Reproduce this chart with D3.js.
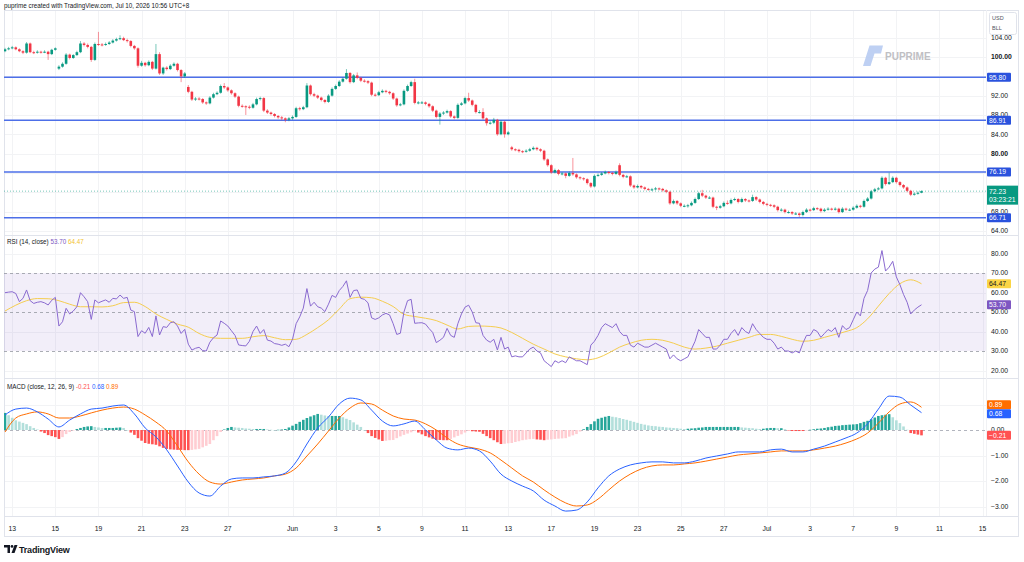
<!DOCTYPE html>
<html>
<head>
<meta charset="utf-8">
<script src="https://cdn.jsdelivr.net/npm/d3@7"></script>
<style>
    html, body { margin: 0; padding: 0; background: #fff; }
    svg { display: block; font-family: "Liberation Sans", Arial, sans-serif; }
</style>
</head>
<body>
<svg id="chart" width="1024" height="562"></svg>
<script>
// 4h candles
var opens = [
    101.2, 101.6, 101.8, 102.0, 101.6, 101.2, 100.9, 102.8, 101.0, 100.9,
    101.1, 101.0, 101.1, 100.6, 101.5, 97.6, 98.0, 98.6, 100.5, 99.8,
    100.4, 101.0, 102.8, 102.5, 102.1, 99.4, 102.7, 102.6, 102.5, 102.7,
    103.0, 103.4, 103.7, 103.9, 103.5, 103.3, 102.3, 101.8, 98.2, 98.8,
    98.3, 99.0, 97.6, 100.6, 96.6, 97.8, 97.5, 98.2, 98.6, 97.3,
    96.0, 93.8, 92.8, 91.2, 91.4, 91.3, 90.6, 90.4, 91.6, 92.3,
    92.6, 94.0, 93.7, 93.1, 92.5, 91.8, 89.9, 89.8, 89.7, 89.5,
    90.2, 91.3, 91.5, 88.9, 88.5, 88.2, 87.8, 87.5, 87.3, 87.0,
    87.3, 87.6, 89.4, 89.2, 89.6, 94.1, 92.3, 92.0, 91.6, 91.1,
    90.7, 92.0, 93.4, 94.0, 94.9, 95.5, 96.7, 94.8, 96.2, 95.7,
    95.1, 95.0, 94.7, 92.2, 92.1, 92.7, 93.0, 92.8, 92.5, 91.4,
    90.0, 90.2, 93.0, 94.0, 94.8, 90.5, 90.6, 90.6, 90.3, 89.8,
    88.9, 87.6, 88.3, 88.5, 88.8, 87.7, 87.4, 90.1, 90.4, 91.5,
    91.0, 90.1, 88.6, 88.6, 87.3, 86.3, 86.4, 87.0, 84.0, 86.6,
    84.0, 81.3, 80.9, 80.8, 80.5, 80.4, 80.6, 80.9, 81.2, 80.9,
    80.6, 78.8, 77.6, 76.1, 76.6, 75.8, 75.9, 75.4, 76.0, 75.7,
    75.1, 74.9, 74.7, 73.9, 73.2, 75.4, 75.6, 75.9, 76.2, 76.0,
    75.8, 77.6, 75.6, 75.2, 75.3, 73.4, 73.0, 73.3, 73.0, 72.7,
    72.6, 72.6, 72.8, 72.7, 72.4, 72.1, 69.7, 70.2, 69.7, 69.2,
    69.2, 69.3, 69.8, 70.6, 71.8, 71.3, 70.9, 70.9, 69.0, 68.8,
    69.1, 69.8, 69.7, 70.4, 70.6, 70.0, 70.6, 70.3, 70.2, 71.0,
    70.5, 70.0, 69.6, 69.4, 69.3, 69.0, 68.3, 68.4, 67.9, 67.9,
    67.6, 67.6, 67.3, 67.9, 68.4, 68.3, 68.7, 68.6, 68.1, 68.4,
    68.6, 68.5, 68.6, 67.9, 68.6, 68.4, 68.4, 68.8, 69.2, 69.0,
    70.2, 70.7, 72.2, 72.6, 72.8, 75.0, 73.7, 74.1, 75.0, 74.1,
    73.5, 73.0, 72.3, 71.5, 71.7, 71.9
];
var highs = [
    101.9, 102.1, 102.3, 102.2, 101.8, 101.4, 103.1, 103.0, 101.3, 101.4,
    101.3, 101.4, 101.3, 101.7, 102.0, 98.3, 98.9, 100.8, 100.7, 100.6,
    101.3, 103.3, 103.1, 102.8, 102.3, 103.0, 105.2, 102.9, 103.0, 103.3,
    103.7, 104.0, 104.5, 104.2, 103.8, 103.5, 102.5, 102.0, 99.2, 99.0,
    99.3, 99.2, 102.7, 101.0, 98.0, 98.1, 98.5, 98.9, 98.8, 97.5,
    96.9, 94.2, 93.0, 91.7, 91.7, 91.5, 90.8, 91.9, 92.6, 92.9,
    94.3, 94.6, 93.9, 93.3, 92.7, 92.0, 90.2, 90.0, 90.0, 90.5,
    91.6, 91.8, 91.7, 89.2, 88.7, 88.4, 88.0, 87.8, 87.5, 87.6,
    87.9, 89.7, 89.7, 89.9, 94.6, 94.3, 92.6, 92.2, 91.8, 91.3,
    92.3, 93.7, 94.3, 95.2, 95.8, 97.5, 96.9, 96.5, 96.8, 95.9,
    95.4, 95.2, 94.9, 92.5, 93.0, 93.3, 93.2, 93.0, 92.7, 91.6,
    90.5, 93.3, 94.3, 95.1, 95.5, 90.9, 90.9, 90.8, 90.5, 90.0,
    89.1, 88.6, 88.8, 89.1, 89.0, 87.9, 90.4, 90.7, 91.8, 92.6,
    91.2, 90.3, 89.0, 89.4, 87.5, 86.7, 87.4, 87.2, 86.9, 86.8,
    84.7, 81.6, 81.1, 81.0, 80.7, 80.9, 81.2, 81.5, 81.4, 81.1,
    80.8, 79.0, 77.8, 76.9, 76.8, 76.2, 76.1, 76.3, 79.1, 75.9,
    75.3, 75.1, 74.9, 74.1, 75.7, 75.9, 76.2, 76.5, 76.4, 76.2,
    76.5, 78.0, 75.8, 75.6, 75.5, 73.6, 73.6, 73.5, 73.2, 72.9,
    72.9, 73.1, 73.0, 72.9, 72.6, 72.3, 70.5, 70.4, 69.9, 69.5,
    69.6, 70.1, 70.9, 72.1, 72.5, 71.5, 71.2, 71.1, 69.2, 69.4,
    70.1, 70.3, 70.7, 70.9, 70.8, 70.9, 70.8, 70.5, 71.5, 71.2,
    70.7, 70.2, 69.8, 69.6, 69.5, 69.2, 68.7, 68.6, 68.2, 68.1,
    67.9, 67.8, 68.2, 68.7, 68.6, 69.0, 68.9, 68.8, 68.7, 68.9,
    68.8, 68.9, 68.8, 68.9, 68.8, 68.7, 69.1, 69.5, 69.4, 70.5,
    71.0, 72.5, 72.9, 73.1, 75.3, 75.2, 76.06, 75.3, 75.2, 74.3,
    73.7, 73.2, 72.5, 72.0, 72.2, 72.4
];
var lows = [
    101.0, 101.4, 101.6, 101.4, 101.0, 100.6, 100.7, 100.8, 100.6, 100.7,
    100.7, 100.8, 99.4, 100.4, 101.3, 97.3, 97.8, 98.4, 99.5, 99.6,
    100.2, 100.8, 102.2, 101.8, 99.0, 99.2, 102.3, 102.2, 102.3, 102.5,
    102.8, 103.2, 103.5, 103.3, 103.0, 102.0, 101.5, 97.8, 98.0, 98.0,
    98.1, 97.3, 97.4, 96.3, 96.3, 97.2, 97.3, 98.0, 97.0, 94.8,
    95.7, 92.5, 90.9, 90.9, 91.0, 90.3, 90.1, 90.2, 91.4, 92.1,
    92.4, 93.4, 92.8, 92.2, 91.5, 89.6, 89.5, 88.0, 89.2, 89.3,
    90.0, 91.0, 88.6, 88.2, 87.9, 87.5, 87.2, 86.9, 86.5, 86.7,
    87.0, 87.4, 88.9, 89.0, 89.4, 92.0, 91.7, 91.3, 90.8, 90.4,
    90.5, 91.8, 93.2, 93.8, 94.7, 95.3, 94.5, 94.6, 95.4, 94.8,
    94.7, 94.4, 91.9, 91.8, 91.9, 92.5, 92.5, 92.2, 91.1, 89.7,
    89.8, 90.0, 92.8, 93.8, 90.2, 90.2, 90.3, 90.0, 89.5, 88.6,
    87.3, 86.0, 88.0, 88.3, 87.4, 87.1, 87.2, 89.9, 90.2, 90.7,
    89.8, 88.3, 88.3, 87.0, 85.8, 86.0, 86.1, 83.7, 83.8, 83.3,
    83.8, 80.6, 80.5, 80.2, 80.1, 80.2, 80.4, 80.7, 80.6, 80.3,
    78.5, 77.3, 75.8, 75.9, 75.5, 75.5, 74.9, 75.2, 75.4, 74.8,
    74.6, 74.4, 73.6, 72.9, 73.0, 75.2, 75.4, 75.7, 75.7, 75.5,
    75.6, 75.3, 74.9, 75.0, 73.1, 72.7, 72.8, 72.7, 72.4, 72.3,
    72.3, 72.4, 72.4, 72.1, 71.8, 69.4, 69.5, 69.4, 68.9, 68.9,
    68.8, 69.1, 69.6, 70.4, 71.0, 70.6, 70.6, 68.7, 68.3, 68.6,
    68.9, 69.4, 69.5, 70.2, 69.7, 69.8, 70.0, 69.9, 70.0, 70.2,
    69.7, 69.3, 69.1, 69.0, 68.7, 68.0, 68.0, 67.6, 67.6, 67.3,
    67.3, 66.9, 67.0, 67.7, 68.0, 68.1, 68.3, 67.8, 67.9, 68.2,
    68.2, 68.2, 67.6, 67.7, 68.1, 68.1, 68.2, 68.6, 68.7, 68.8,
    70.0, 70.5, 72.0, 72.4, 72.6, 73.4, 73.5, 73.9, 73.8, 73.2,
    72.7, 72.0, 71.2, 71.3, 71.5, 71.8
];
var closes = [
    101.6, 101.8, 102.0, 101.6, 101.2, 100.9, 102.8, 101.0, 100.9, 101.1,
    101.0, 101.1, 100.6, 101.5, 101.8, 98.0, 98.6, 100.5, 99.8, 100.4,
    101.0, 102.8, 102.5, 102.1, 99.4, 102.7, 102.6, 102.5, 102.7, 103.0,
    103.4, 103.7, 103.9, 103.5, 103.3, 102.3, 101.8, 98.2, 98.8, 98.3,
    99.0, 97.6, 100.6, 96.6, 97.8, 97.5, 98.2, 98.6, 97.3, 96.0,
    96.6, 92.8, 91.2, 91.4, 91.3, 90.6, 90.4, 91.6, 92.3, 92.6,
    94.0, 93.7, 93.1, 92.5, 91.8, 89.9, 89.8, 89.7, 89.5, 90.2,
    91.3, 91.5, 88.9, 88.5, 88.2, 87.8, 87.5, 87.3, 87.0, 87.3,
    87.6, 89.4, 89.2, 89.6, 94.1, 92.3, 92.0, 91.6, 91.1, 90.7,
    92.0, 93.4, 94.0, 94.9, 95.5, 96.7, 94.8, 96.2, 95.7, 95.1,
    95.0, 94.7, 92.2, 92.1, 92.7, 93.0, 92.8, 92.5, 91.4, 90.0,
    90.2, 93.0, 94.0, 94.8, 90.5, 90.6, 90.6, 90.3, 89.8, 88.9,
    87.6, 88.3, 88.5, 88.8, 87.7, 87.4, 90.1, 90.4, 91.5, 91.0,
    90.1, 88.6, 88.6, 87.3, 86.3, 86.4, 87.0, 84.0, 86.6, 84.0,
    84.4, 80.9, 80.8, 80.5, 80.4, 80.6, 80.9, 81.2, 80.9, 80.6,
    78.8, 77.6, 76.1, 76.6, 75.8, 75.9, 75.4, 76.0, 75.7, 75.1,
    74.9, 74.7, 73.9, 73.2, 75.4, 75.6, 75.9, 76.2, 76.0, 75.8,
    76.2, 75.6, 75.2, 75.3, 73.4, 73.0, 73.3, 73.0, 72.7, 72.6,
    72.6, 72.8, 72.7, 72.4, 72.1, 69.7, 70.2, 69.7, 69.2, 69.2,
    69.3, 69.8, 70.6, 71.8, 71.3, 70.9, 70.9, 69.0, 68.8, 69.1,
    69.8, 69.7, 70.4, 70.6, 70.0, 70.6, 70.3, 70.2, 71.0, 70.5,
    70.0, 69.6, 69.4, 69.3, 69.0, 68.3, 68.4, 67.9, 67.9, 67.6,
    67.6, 67.3, 67.9, 68.4, 68.3, 68.7, 68.6, 68.1, 68.4, 68.6,
    68.5, 68.6, 67.9, 68.6, 68.4, 68.4, 68.8, 69.2, 69.0, 70.2,
    70.7, 72.2, 72.6, 72.8, 75.0, 73.7, 74.1, 75.0, 74.1, 73.5,
    73.0, 72.3, 71.5, 71.7, 71.9, 72.23
];

// RSI(14), one value per candle
var rsiValues = [
    59.9, 60.2, 60.4, 59.5, 55.3, 57.0, 61.3, 55.8, 54.4, 55.0,
    55.3, 54.7, 53.6, 56.0, 57.5, 42.8, 45.0, 51.9, 49.0, 50.5,
    52.7, 59.9, 57.8, 55.3, 46.2, 56.2, 54.7, 55.5, 56.2, 55.0,
    57.0, 56.7, 58.7, 57.0, 57.5, 51.0, 50.2, 37.4, 40.4, 39.1,
    42.1, 37.4, 48.0, 38.2, 42.5, 42.1, 44.5, 45.0, 42.8, 39.0,
    41.1, 33.5, 30.5, 31.4, 31.9, 30.2, 30.0, 34.5, 36.8, 38.2,
    45.4, 44.2, 42.8, 40.4, 38.0, 33.1, 32.8, 32.6, 35.0, 40.0,
    42.8, 39.0, 41.0, 35.6, 35.1, 33.8, 33.5, 32.9, 33.5, 32.2,
    36.0, 44.0, 47.5, 52.0, 62.0, 53.0, 55.0, 52.7, 52.0, 50.2,
    54.0, 58.5, 57.5, 61.0, 63.1, 66.0, 57.5, 61.0, 61.3, 57.0,
    56.5, 54.7, 47.0, 46.2, 47.0, 48.5, 49.3, 48.5, 44.0, 38.5,
    39.1, 50.0, 55.8, 56.5, 44.2, 44.4, 44.5, 43.8, 41.5, 39.5,
    34.3, 35.5, 37.0, 41.6, 38.0, 37.0, 44.0, 49.0, 52.5, 53.5,
    50.0, 44.5, 44.2, 38.0, 35.6, 34.5, 36.0, 30.5, 37.0, 31.0,
    32.0, 27.0, 27.5, 27.0, 27.0, 29.0, 31.0, 32.0, 30.0, 29.0,
    25.0, 23.5, 22.0, 25.0, 24.0, 25.0, 24.0, 27.0, 26.0, 25.0,
    25.0, 24.0, 23.0, 33.0, 35.0, 38.0, 42.0, 44.0, 43.0, 42.0,
    44.0, 40.0, 38.0, 38.0, 33.0, 32.0, 34.0, 33.0, 32.0, 32.0,
    33.0, 34.0, 33.0, 32.0, 31.0, 26.0, 28.0, 26.0, 25.0, 26.0,
    27.0, 31.0, 35.0, 41.0, 39.0, 37.0, 37.0, 31.0, 31.0, 33.0,
    36.0, 36.0, 39.0, 41.0, 38.0, 42.0, 40.0, 39.0, 44.0, 41.0,
    39.0, 37.0, 36.0, 36.0, 34.0, 31.0, 32.0, 30.0, 30.0, 29.0,
    30.0, 29.0, 34.0, 38.0, 38.0, 41.0, 40.0, 37.0, 39.0, 41.0,
    40.0, 42.0, 37.0, 43.0, 41.0, 42.0, 46.0, 50.0, 48.0, 57.0,
    61.0, 70.0, 72.0, 73.0, 81.5, 71.0, 73.0, 76.0, 68.0, 64.0,
    59.0, 55.0, 49.0, 51.0, 52.5, 53.70
];

// smooth lines, one point every 3 candles
var lineStep = 3;
var rsiMaValues = [
    50.5, 53.5, 55.8, 56.9, 56.8, 55.8, 54.0, 52.7, 52.7, 52.6,
    53.2, 54.8, 55.0, 52.8, 49.0, 46.2, 43.8, 42.2, 39.0, 37.0,
    36.5, 36.5, 36.5, 37.3, 37.9, 36.8, 35.8, 36.0, 38.5, 42.0,
    46.0, 51.5, 56.8, 57.6, 57.3, 55.5, 52.8, 48.8, 47.7, 46.8,
    45.6, 43.3, 41.3, 42.6, 42.8, 42.6, 41.8, 39.5, 36.5, 33.5,
    31.0, 28.5, 27.0, 26.0, 25.5, 26.5, 29.0, 32.0, 34.0, 35.5,
    36.0, 35.5, 34.0, 32.0, 31.0, 31.5, 32.5, 34.0, 35.5, 37.0,
    38.5, 38.5, 37.5, 36.0, 35.0, 35.5, 37.0, 38.5, 40.0, 42.0,
    46.5, 53.0, 59.5, 64.5, 66.5, 64.47
];
var macdValues = [
    0.59, 0.82, 0.86, 0.71, 0.43, 0.12, 0.39, 0.63, 0.82, 0.86,
    0.94, 0.98, 0.63, 0.08, -0.27, -0.78, -1.41, -2.04, -2.47, -2.59,
    -2.2, -1.92, -1.88, -1.88, -1.84, -1.8, -1.69, -1.25, -0.55, 0.08,
    0.51, 1.02, 1.25, 1.18, 0.78, 0.35, 0.16, 0.24, 0.35, 0.0,
    -0.39, -0.71, -0.78, -0.71, -0.82, -1.22, -1.73, -2.0, -2.2, -2.39,
    -2.75, -2.98, -3.18, -3.14, -2.82, -2.27, -1.8, -1.53, -1.37, -1.29,
    -1.25, -1.25, -1.29, -1.29, -1.22, -1.1, -1.02, -0.94, -0.86, -0.86,
    -0.86, -0.78, -0.75, -0.86, -0.86, -0.75, -0.63, -0.47, -0.31, -0.12,
    0.24, 0.82, 1.33, 1.29, 0.98, 0.68
];
var signalValues = [
    -0.08, 0.47, 0.63, 0.71, 0.63, 0.47, 0.47, 0.55, 0.67, 0.78,
    0.86, 0.9, 0.82, 0.59, 0.31, -0.04, -0.63, -1.25, -1.73, -2.04,
    -2.12, -2.04, -1.96, -1.92, -1.88, -1.8, -1.73, -1.49, -1.02, -0.55,
    -0.04, 0.47, 0.86, 1.06, 1.02, 0.78, 0.55, 0.43, 0.39, 0.24,
    0.0, -0.31, -0.55, -0.67, -0.75, -0.9, -1.18, -1.49, -1.8, -2.04,
    -2.35, -2.63, -2.86, -2.98, -2.94, -2.71, -2.35, -2.0, -1.73, -1.53,
    -1.41, -1.37, -1.37, -1.33, -1.29, -1.22, -1.14, -1.06, -0.98, -0.94,
    -0.9, -0.86, -0.82, -0.82, -0.82, -0.78, -0.71, -0.63, -0.51, -0.35,
    -0.12, 0.27, 0.71, 1.02, 1.1, 0.89
];
// MACD histogram, one bar per candle
var histValues = [
    0.67, 0.58, 0.48, 0.38, 0.33, 0.28, 0.23, 0.15, 0.08, 0.02,
    -0.06, -0.12, -0.2, -0.24, -0.28, -0.35, -0.28, -0.16, -0.08, -0.02,
    0.04, 0.08, 0.12, 0.14, 0.15, 0.12, 0.1, 0.08, 0.08, 0.08,
    0.08, 0.09, 0.1, 0.08, 0.0, -0.1, -0.19, -0.32, -0.42, -0.51,
    -0.54, -0.56, -0.58, -0.64, -0.7, -0.74, -0.76, -0.77, -0.78, -0.78,
    -0.79, -0.79, -0.78, -0.76, -0.74, -0.68, -0.62, -0.55, -0.4, -0.24,
    -0.08, 0.02, 0.08, 0.12, 0.1, 0.09, 0.08, 0.06, 0.05, 0.04,
    0.04, 0.04, 0.04, 0.02, 0.01, 0.0, 0.01, 0.02, 0.04, 0.1,
    0.17, 0.24, 0.32, 0.4, 0.47, 0.53, 0.58, 0.63, 0.6, 0.57,
    0.55, 0.55, 0.55, 0.55, 0.5, 0.44, 0.39, 0.3, 0.21, 0.12,
    0.0, -0.12, -0.24, -0.31, -0.37, -0.43, -0.42, -0.4, -0.39, -0.32,
    -0.25, -0.19, -0.14, -0.09, -0.04, -0.1, -0.17, -0.24, -0.29, -0.34,
    -0.39, -0.39, -0.4, -0.4, -0.35, -0.29, -0.23, -0.17, -0.1, -0.04,
    -0.05, -0.06, -0.07, -0.15, -0.24, -0.32, -0.4, -0.48, -0.55, -0.54,
    -0.52, -0.51, -0.47, -0.44, -0.4, -0.38, -0.36, -0.35, -0.37, -0.38,
    -0.4, -0.38, -0.37, -0.35, -0.34, -0.33, -0.32, -0.26, -0.21, -0.16,
    -0.06, 0.03, 0.12, 0.23, 0.34, 0.44, 0.48, 0.52, 0.55, 0.52,
    0.5, 0.47, 0.43, 0.4, 0.36, 0.32, 0.28, 0.24, 0.21, 0.18,
    0.16, 0.15, 0.13, 0.12, 0.1, 0.09, 0.08, 0.07, 0.05, 0.04,
    0.05, 0.06, 0.07, 0.09, 0.1, 0.12, 0.12, 0.12, 0.12, 0.12,
    0.12, 0.12, 0.12, 0.12, 0.12, 0.1, 0.09, 0.08, 0.07, 0.05,
    0.04, 0.05, 0.07, 0.08, 0.08, 0.07, 0.07, 0.03, -0.01, -0.04,
    -0.04, -0.04, -0.04, -0.02, 0.01, 0.03, 0.05, 0.06, 0.08, 0.11,
    0.13, 0.16, 0.17, 0.19, 0.2, 0.21, 0.22, 0.23, 0.27, 0.32,
    0.36, 0.42, 0.49, 0.55, 0.58, 0.6, 0.62, 0.5, 0.38, 0.27,
    0.14, 0.01, -0.12, -0.15, -0.18, -0.21
];

var levelPrices = [95.80, 86.91, 76.19, 66.71];
var priceTicks = [104, 100, 92, 88, 84, 80, 68, 64];
var boldPriceTicks = [100, 80];
var rsiTicks = [80, 70, 60, 50, 40, 30, 20];
var macdTicks = [0, -1, -2, -3];
var dateLabels = ["13", "15", "19", "21", "23", "27", "Jun", "3", "5", "9", "11", "13",
    "17", "19", "23", "25", "27", "Jul", "3", "7", "9", "11", "15"];
var dateDays = [0, 2, 4, 6, 8, 10, 13, 15, 17, 19, 21, 23, 25, 27, 29, 31, 33, 35, 37, 39, 41, 43, 45];
var countdown = "03:23:21";

var UP = "#089981", DOWN = "#f23645", TEXT = "#131722";
var GRID = "#f2f3f5", BORDER = "#e0e3eb";
var LEVEL = "#4d6fe8", LEVEL_LABEL = "#2a52dd";

var svg = d3.select("#chart");
var plotLeft = 4, plotRight = 986, axisRight = 1018;
var pricePane = { top: 10, bottom: 235 },
    rsiPane = { top: 236, bottom: 378 },
    macdPane = { top: 379, bottom: 516 },
    timeBottom = 536;

var barsPerDay = 6, firstBar = 2;
var x = d3.scaleLinear().domain([0, closes.length - 1]).range([5, 921.5]);
var yPrice = d3.scaleLinear().domain([64, 104]).range([230.9, 37.7]);
var yRsi = d3.scaleLinear().domain([20, 80]).range([370.5, 253.5]);
var yMacd = d3.scaleLinear().domain([-3, 0]).range([506.5, 430]);

function dayX(d) { return x(firstBar + d * barsPerDay); }

function addClip(id, pane) {
    svg.append("clipPath").attr("id", id)
        .append("rect")
        .attr("x", plotLeft).attr("y", pane.top)
        .attr("width", plotRight - plotLeft).attr("height", pane.bottom - pane.top);
}
addClip("clip-price", pricePane);
addClip("clip-rsi", rsiPane);
addClip("clip-macd", macdPane);

// header
svg.append("text")
    .attr("x", 4).attr("y", 7.5)
    .attr("font-size", 6.3).attr("fill", TEXT)
    .text("puprime created with TradingView.com, Jul 10, 2026 10:56 UTC+8");

// grid
var grid = svg.append("g").attr("stroke", GRID).attr("stroke-width", 1);
grid.selectAll(".vgrid").data(dateDays).enter().append("line")
    .attr("x1", function (d) { return Math.round(dayX(d)) + 0.5; })
    .attr("x2", function (d) { return Math.round(dayX(d)) + 0.5; })
    .attr("y1", pricePane.top).attr("y2", macdPane.bottom);
grid.selectAll(".pgrid").data(d3.range(64, 105, 4)).enter().append("line")
    .attr("x1", plotLeft).attr("x2", plotRight)
    .attr("y1", function (d) { return Math.round(yPrice(d)) + 0.5; })
    .attr("y2", function (d) { return Math.round(yPrice(d)) + 0.5; });
grid.selectAll(".rgrid").data([80, 60, 40, 20]).enter().append("line")
    .attr("x1", plotLeft).attr("x2", plotRight)
    .attr("y1", function (d) { return Math.round(yRsi(d)) + 0.5; })
    .attr("y2", function (d) { return Math.round(yRsi(d)) + 0.5; });
grid.selectAll(".mgrid").data([1, -1, -2, -3]).enter().append("line")
    .attr("x1", plotLeft).attr("x2", plotRight)
    .attr("y1", function (d) { return Math.round(yMacd(d)) + 0.5; })
    .attr("y2", function (d) { return Math.round(yMacd(d)) + 0.5; });

// frame and pane separators
var frame = svg.append("g").attr("stroke", BORDER).attr("stroke-width", 1).attr("fill", "none");
frame.append("rect").attr("x", plotLeft + 0.5).attr("y", pricePane.top + 0.5)
    .attr("width", axisRight - plotLeft).attr("height", timeBottom - pricePane.top);
[pricePane.bottom, rsiPane.bottom, macdPane.bottom].forEach(function (yy) {
    frame.append("line").attr("x1", plotLeft).attr("x2", axisRight)
        .attr("y1", yy + 0.5).attr("y2", yy + 0.5);
});
frame.append("line").attr("x1", plotRight + 0.5).attr("x2", plotRight + 0.5)
    .attr("y1", pricePane.top).attr("y2", macdPane.bottom).attr("stroke", "#f0f1f4");

// watermark
var mark = svg.append("g").attr("opacity", 0.9);
mark.append("path")
    .attr("d", "M863,66 L869.5,45.5 L883,45.5 L881,53.5 L874.5,53.5 L870.5,66 Z")
    .attr("fill", "#b7ccf2");
mark.append("text")
    .attr("x", 885).attr("y", 59.5)
    .attr("font-size", 10).attr("font-weight", "bold").attr("fill", "#b9b9bd")
    .text("PUPRIME");

// price pane
var price = svg.append("g").attr("clip-path", "url(#clip-price)");

var lastClose = closes[closes.length - 1];
price.append("line")
    .attr("x1", plotLeft).attr("x2", plotRight)
    .attr("y1", yPrice(lastClose)).attr("y2", yPrice(lastClose))
    .attr("stroke", UP).attr("stroke-opacity", 0.55).attr("stroke-dasharray", "1,2");

price.selectAll(".level").data(levelPrices).enter().append("line")
    .attr("x1", plotLeft).attr("x2", plotRight)
    .attr("y1", function (d) { return yPrice(d); })
    .attr("y2", function (d) { return yPrice(d); })
    .attr("stroke", LEVEL).attr("stroke-width", 1.6);

var bars = closes.map(function (c, i) {
    return { i: i, o: opens[i], h: highs[i], l: lows[i], c: c };
});
var candle = price.selectAll(".candle").data(bars).enter().append("g")
    .attr("fill", function (d) { return d.c >= d.o ? UP : DOWN; })
    .attr("stroke", function (d) { return d.c >= d.o ? UP : DOWN; });
// wicks come out lighter than bodies in the reference
candle.append("line")
    .attr("x1", function (d) { return x(d.i); })
    .attr("x2", function (d) { return x(d.i); })
    .attr("y1", function (d) { return yPrice(d.h); })
    .attr("y2", function (d) { return yPrice(d.l); })
    .attr("stroke-width", 0.9)
    .attr("stroke-opacity", 0.6);
candle.append("rect")
    .attr("stroke", "none")
    .attr("x", function (d) { return x(d.i) - 1.3; })
    .attr("width", 2.6)
    .attr("y", function (d) { return yPrice(Math.max(d.o, d.c)); })
    .attr("height", function (d) { return Math.max(1, Math.abs(yPrice(d.o) - yPrice(d.c))); });

// price axis
var paxis = svg.append("g").attr("font-size", 6.8).attr("fill", TEXT);
paxis.selectAll(".ptick").data(priceTicks).enter().append("text")
    .attr("x", 991).attr("y", function (d) { return yPrice(d); })
    .attr("dy", "0.35em")
    .attr("font-weight", function (d) { return boldPriceTicks.indexOf(d) >= 0 ? "bold" : null; })
    .text(function (d) { return d.toFixed(2); });

function axisTag(g, yy, value, bg, fg, h) {
    g.append("rect").attr("x", plotRight + 1).attr("y", yy - h / 2)
        .attr("width", 24).attr("height", h).attr("rx", 1).attr("fill", bg);
    g.append("text").attr("x", plotRight + 3).attr("y", yy).attr("dy", "0.35em")
        .attr("font-size", 6.8).attr("fill", fg).text(value);
}
levelPrices.forEach(function (p) {
    axisTag(svg.append("g"), yPrice(p), p.toFixed(2), LEVEL_LABEL, "#fff", 9);
});

var lastTag = svg.append("g");
var ly = yPrice(lastClose);
lastTag.append("rect").attr("x", plotRight + 1).attr("y", ly - 5.5)
    .attr("width", 31).attr("height", 19).attr("fill", UP);
lastTag.append("text").attr("x", plotRight + 3).attr("y", ly).attr("dy", "0.35em")
    .attr("font-size", 6.8).attr("fill", "#fff").text(lastClose.toFixed(2));
lastTag.append("text").attr("x", plotRight + 3).attr("y", ly + 8.5).attr("dy", "0.35em")
    .attr("font-size", 6.8).attr("fill", "#fff").text(countdown);

var unitBox = svg.append("g");
unitBox.append("rect").attr("x", 989.5).attr("y", 12.5).attr("width", 27).attr("height", 22)
    .attr("rx", 2).attr("fill", "#fff").attr("stroke", BORDER);
unitBox.append("text").attr("x", 992).attr("y", 19.5).attr("font-size", 5.5).attr("fill", "#50535e").text("USD");
unitBox.append("text").attr("x", 992).attr("y", 29.5).attr("font-size", 5.5).attr("fill", "#50535e").text("BLL");

// RSI pane
var rsi = svg.append("g").attr("clip-path", "url(#clip-rsi)");
rsi.append("rect")
    .attr("x", plotLeft).attr("width", plotRight - plotLeft)
    .attr("y", yRsi(70)).attr("height", yRsi(30) - yRsi(70))
    .attr("fill", "#7e57c2").attr("fill-opacity", 0.1);
rsi.selectAll(".band").data([70, 50, 30]).enter().append("line")
    .attr("x1", plotLeft).attr("x2", plotRight)
    .attr("y1", function (d) { return Math.round(yRsi(d)) + 0.5; })
    .attr("y2", function (d) { return Math.round(yRsi(d)) + 0.5; })
    .attr("stroke", "#9598a1").attr("stroke-opacity", 0.8).attr("stroke-dasharray", "3,3");

var maLine = d3.line()
    .x(function (d, k) { return x(k * lineStep); })
    .y(function (d) { return yRsi(d); })
    .curve(d3.curveMonotoneX);
rsi.append("path").datum(rsiMaValues).attr("d", maLine)
    .attr("fill", "none").attr("stroke", "#f5cd4f").attr("stroke-width", 1);

var rsiLine = d3.line()
    .x(function (d, i) { return x(i); })
    .y(function (d) { return yRsi(d); });
rsi.append("path").datum(rsiValues).attr("d", rsiLine)
    .attr("fill", "none").attr("stroke", "#8a6ad0").attr("stroke-width", 1);

var lastRsi = rsiValues[rsiValues.length - 1], lastMa = rsiMaValues[rsiMaValues.length - 1];
var rlegend = svg.append("text").attr("x", 7).attr("y", 244).attr("font-size", 6.3).attr("fill", TEXT);
rlegend.append("tspan").text("RSI (14, close) ");
rlegend.append("tspan").attr("fill", "#7e57c2").text(lastRsi.toFixed(2) + " ");
rlegend.append("tspan").attr("fill", "#f2c230").text(lastMa.toFixed(2));

var raxis = svg.append("g").attr("font-size", 6.8).attr("fill", TEXT);
raxis.selectAll(".rtick").data(rsiTicks).enter().append("text")
    .attr("x", 991).attr("y", function (d) { return yRsi(d); }).attr("dy", "0.35em")
    .text(function (d) { return d.toFixed(2); });
axisTag(svg.append("g"), yRsi(lastMa), lastMa.toFixed(2), "#fbd545", TEXT, 9);
axisTag(svg.append("g"), yRsi(lastRsi), lastRsi.toFixed(2), "#7e57c2", "#fff", 9);

// MACD pane
var macd = svg.append("g").attr("clip-path", "url(#clip-macd)");
macd.append("line")
    .attr("x1", plotLeft).attr("x2", plotRight)
    .attr("y1", Math.round(yMacd(0)) + 0.5).attr("y2", Math.round(yMacd(0)) + 0.5)
    .attr("stroke", "#b2b5be").attr("stroke-dasharray", "3,3");

function histColor(v, i) {
    var prev = i > 0 ? histValues[i - 1] : v;
    if (v >= 0) return v >= prev ? "#26a69a" : "#b2dfdb";
    return v <= prev ? "#ff5252" : "#ffcdd2";
}
macd.selectAll(".hist").data(histValues).enter().append("rect")
    .attr("x", function (d, i) { return x(i) - 1.3; })
    .attr("width", 2.6)
    .attr("y", function (d) { return Math.min(yMacd(d), yMacd(0)); })
    .attr("height", function (d) { return Math.max(0.5, Math.abs(yMacd(d) - yMacd(0))); })
    .attr("fill", histColor);

var stepLine = d3.line()
    .x(function (d, k) { return x(k * lineStep); })
    .y(function (d) { return yMacd(d); })
    .curve(d3.curveMonotoneX);
macd.append("path").datum(signalValues).attr("d", stepLine)
    .attr("fill", "none").attr("stroke", "#ff6d00").attr("stroke-width", 1);
macd.append("path").datum(macdValues).attr("d", stepLine)
    .attr("fill", "none").attr("stroke", "#2962ff").attr("stroke-width", 1);

var lastHist = histValues[histValues.length - 1],
    lastMacd = macdValues[macdValues.length - 1],
    lastSignal = signalValues[signalValues.length - 1];
var mlegend = svg.append("text").attr("x", 7).attr("y", 389).attr("font-size", 6.3).attr("fill", TEXT);
mlegend.append("tspan").text("MACD (close, 12, 26, 9) ");
mlegend.append("tspan").attr("fill", "#ff5252").text(lastHist.toFixed(2) + " ");
mlegend.append("tspan").attr("fill", "#2962ff").text(lastMacd.toFixed(2) + " ");
mlegend.append("tspan").attr("fill", "#ff6d00").text(lastSignal.toFixed(2));

var maxis = svg.append("g").attr("font-size", 6.8).attr("fill", TEXT);
maxis.selectAll(".mtick").data(macdTicks).enter().append("text")
    .attr("x", 991).attr("y", function (d) { return yMacd(d); }).attr("dy", "0.35em")
    .text(function (d) { return d.toFixed(2).replace("-", "\u2212"); });

var macdTags = [
    { v: lastSignal, bg: "#ff6d00" },
    { v: lastMacd, bg: "#2962ff" },
    { v: lastHist, bg: "#ff5252" }
].map(function (t) { t.y = yMacd(t.v); return t; })
 .sort(function (a, b) { return a.y - b.y; });
for (var k = 1; k < macdTags.length; k++) {
    var over = 9 - (macdTags[k].y - macdTags[k - 1].y);
    if (over > 0) { macdTags[k - 1].y -= over * 0.7; macdTags[k].y += over * 0.3; }
}
macdTags.forEach(function (t) {
    axisTag(svg.append("g"), t.y, t.v.toFixed(2).replace("-", "\u2212"), t.bg, "#fff", 9);
});

// time axis
svg.append("g").attr("font-size", 6.8).attr("fill", TEXT)
    .selectAll("text").data(dateLabels).enter().append("text")
    .attr("x", function (d, i) { return dayX(dateDays[i]); })
    .attr("y", 531).attr("text-anchor", "middle")
    .text(function (d) { return d; });

// TradingView logo
var tv = svg.append("g").attr("fill", TEXT);
tv.append("path").attr("d", "M4,545 L10,545 L10,553 L7.5,553 L7.5,547.5 L4,547.5 Z");
tv.append("circle").attr("cx", 12).attr("cy", 546.4).attr("r", 1.4);
tv.append("path").attr("d", "M14.5,545 L17.5,545 L14.5,553 L11.5,553 Z");
tv.append("text").attr("x", 19).attr("y", 552.5).attr("font-size", 9).attr("font-weight", "bold")
    .attr("letter-spacing", -0.2).text("TradingView");
</script>
</body>
</html>
